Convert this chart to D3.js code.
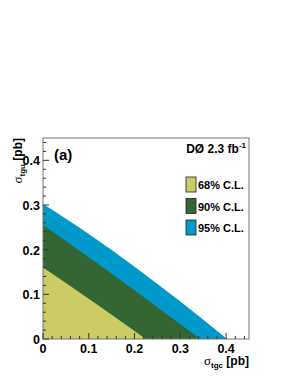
<!DOCTYPE html>
<html>
<head>
<meta charset="utf-8">
<script src="https://cdn.jsdelivr.net/npm/d3@7"></script>
<style>
  body { margin: 0; background: #fff; }
  text { font-family: "Liberation Sans", Arial, sans-serif; font-weight: bold; }
</style>
</head>
<body>
<div id="vis"></div>
<script>
// contornos (sigma_tgc, sigma_tgu) en pb
const cl95 = [[0, 0.302], [0.1, 0.235], [0.2, 0.162], [0.3, 0.084], [0.402, 0]];
const cl90 = [[0, 0.255], [0.1, 0.183], [0.2, 0.109], [0.3, 0.033], [0.343, 0]];
const cl68 = [[0, 0.16], [0.1, 0.09], [0.2, 0.018], [0.224, 0]];
const xTicks = [0, 0.1, 0.2, 0.3, 0.4];
const yTicks = [0, 0.1, 0.2, 0.3, 0.4];
const legendLabels = ["68% C.L.", "90% C.L.", "95% C.L."];
const colors = ["#cccc66", "#336633", "#0099cc"];

const WIDTH = 291, HEIGHT = 376;
const MARGIN = { top: 138, left: 43, right: 42, bottom: 37 };

const svg = d3.select("#vis").append("svg")
  .attr("width", WIDTH).attr("height", HEIGHT);

const x = d3.scaleLinear().domain([0, 0.45]).range([MARGIN.left, WIDTH - MARGIN.right]);
const y = d3.scaleLinear().domain([0, 0.45]).range([HEIGHT - MARGIN.bottom, MARGIN.top]);

// regiones rellenas (de mayor a menor)
const area = d3.area().x(d => x(d[0])).y0(y(0)).y1(d => y(d[1])).curve(d3.curveMonotoneX);
[cl95, cl90, cl68].forEach((c, i) => {
  svg.append("path").attr("d", area(c)).attr("fill", colors[2 - i]);
});

// marco
svg.append("rect")
  .attr("x", x(0)).attr("y", y(0.45))
  .attr("width", x(0.45) - x(0)).attr("height", y(0) - y(0.45))
  .attr("fill", "none").attr("stroke", "#777").attr("stroke-width", 1);

// ticks hacia adentro
const minor = d3.range(0, 0.4501, 0.02);
svg.append("g").selectAll("line").data(minor).join("line")
  .attr("x1", d => x(d)).attr("x2", d => x(d))
  .attr("y1", y(0)).attr("y2", (d, i) => y(0) - (i % 5 === 0 ? 6 : 3))
  .attr("stroke", "#333");
svg.append("g").selectAll("line").data(minor).join("line")
  .attr("y1", d => y(d)).attr("y2", d => y(d))
  .attr("x1", x(0)).attr("x2", (d, i) => x(0) + (i % 5 === 0 ? 6 : 3))
  .attr("stroke", "#333");

svg.append("g").selectAll("text").data(xTicks).join("text")
  .attr("x", d => x(d)).attr("y", y(0) + 14)
  .attr("text-anchor", "middle").attr("font-size", 12.5)
  .text(d => d === 0 ? "0" : d.toFixed(1));
svg.append("g").selectAll("text").data(yTicks).join("text")
  .attr("x", x(0) - 3).attr("y", d => y(d) + 5)
  .attr("text-anchor", "end").attr("font-size", 12.5)
  .text(d => d === 0 ? "0" : d.toFixed(1));

// titulos de ejes
const xl = svg.append("text").attr("x", x(0.45)).attr("y", 365)
  .attr("text-anchor", "end").attr("font-size", 12);
xl.append("tspan").attr("font-weight", "normal").attr("font-family", "Liberation Serif, serif").attr("font-size", 13).text("σ");
xl.append("tspan").attr("font-size", 8).attr("dy", 3).text("tgc");
xl.append("tspan").attr("dy", -3).text(" [pb]");

const yl = svg.append("text").attr("transform", `translate(22, ${y(0.45)}) rotate(-90)`)
  .attr("text-anchor", "end").attr("font-size", 12);
yl.append("tspan").attr("font-weight", "normal").attr("font-family", "Liberation Serif, serif").attr("font-size", 13).text("σ");
yl.append("tspan").attr("font-size", 8).attr("dy", 3).text("tgu");
yl.append("tspan").attr("dy", -3).text(" [pb]");

svg.append("text").attr("x", 54).attr("y", 160).attr("font-size", 15).text("(a)");

const lum = svg.append("text").attr("x", 246).attr("y", 153)
  .attr("text-anchor", "end").attr("font-size", 12);
lum.append("tspan").text("DØ 2.3 fb");
lum.append("tspan").attr("font-size", 8).attr("dy", -5).text("-1");

// leyenda
const leg = svg.append("g").selectAll("g").data(legendLabels).join("g")
  .attr("transform", (d, i) => `translate(186, ${177 + i * 21.5})`);
leg.append("rect").attr("width", 10).attr("height", 15)
  .attr("fill", (d, i) => colors[i]).attr("stroke", "#222").attr("stroke-width", 0.8);
leg.append("text").attr("x", 12).attr("y", 12).attr("font-size", 11).text(d => d);
</script>
</body>
</html>
